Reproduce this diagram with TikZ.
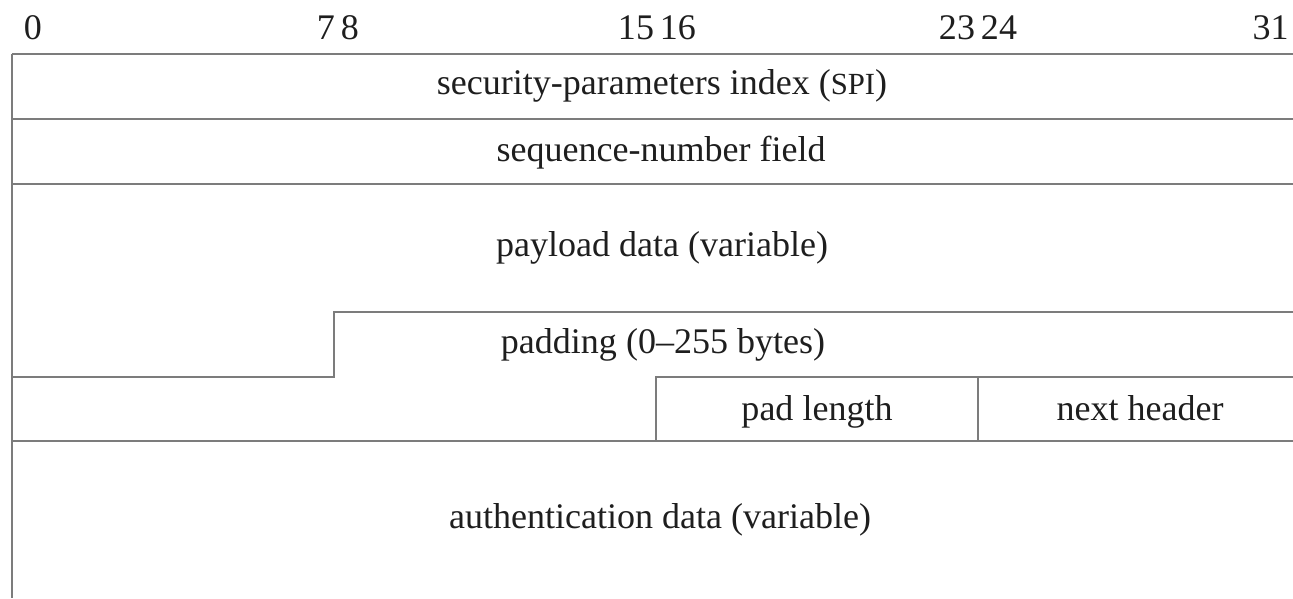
\documentclass[tikz,border=0pt]{standalone}
\usepackage{fontspec}
\setmainfont{Liberation Serif}
\usetikzlibrary{positioning}
\definecolor{ruleline}{HTML}{7C7C7C}
\definecolor{labeltext}{HTML}{1E1E1E}

\begin{document}
\begin{tikzpicture}[x=0.02cm, y=-0.02cm,
      rule/.style={draw=ruleline, line width=1.1pt},
      field/.style={font=\fontsize{20.5}{24}\selectfont, text=labeltext, inner sep=0pt, anchor=base},
      bitno/.style={field}
    ]
    \useasboundingbox (0,0) rectangle (1293,598);

    % bit numbers
    \node[bitno] (b0)  at (33,40)  {0};
    \node[bitno] (b8)  at (338,40) {7\,8};
    \node[bitno] (b16) at (657,40) {15\,16};
    \node[bitno] (b24) at (978,40) {23\,24};
    \node[bitno, anchor=base east] (b31) at (1289,40) {31};

    % word boundaries
    \draw[rule] (12,54)  -- (1310,54);
    \draw[rule] (12,119) -- (1310,119);
    \draw[rule] (12,184) -- (1310,184);
    \draw[rule] (12,377) -- (334,377) -- (334,312) -- (1310,312);
    \draw[rule] (656,441) -- (656,377) -- (1310,377);
    \draw[rule] (978,377) -- (978,441);
    \draw[rule] (12,441) -- (1310,441);
    \draw[rule] (12,54)  -- (12,598);

    % fields
    \node[field] (spi)     at (662,94)  {security-parameters index ({\fontsize{17.5}{20}\selectfont SPI})};
    \node[field] (seq)     at (661,161) {sequence-number field};
    \node[field] (payload) at (662,256) {payload data (variable)};
    \node[field] (padding) at (663,353) {padding (0--255 bytes)};
    \node[field] (padlen)  at (817,420) {pad length};
    \node[field] (nexthdr) at (1140,420) {next header};
    \node[field] (auth)    at (660,528) {authentication data (variable)};
  \end{tikzpicture}
\end{document}
